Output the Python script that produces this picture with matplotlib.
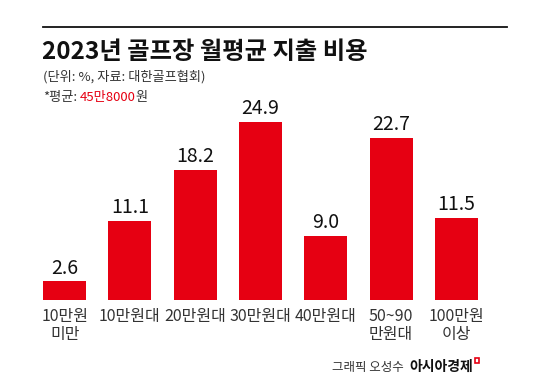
import matplotlib
matplotlib.use("Agg")
import matplotlib.pyplot as plt
from matplotlib.lines import Line2D
from matplotlib.patches import Rectangle

plt.rcParams['font.family'] = ['Noto Sans CJK KR', 'DejaVu Sans']

categories = ["10만원\n미만", "10만원대", "20만원대", "30만원대", "40만원대", "50~90\n만원대", "100만원\n이상"]
values = [2.6, 11.1, 18.2, 24.9, 9.0, 22.7, 11.5]

RED = "#E60012"
W, H = 550, 389

fig = plt.figure(figsize=(W / 100, H / 100), dpi=100)
fig.patch.set_facecolor("white")


def px(x, y):
    return x / W, 1 - y / H


# axes: x 32..489 px, y 100..300 px
ax = fig.add_axes([32 / W, 1 - 300 / H, 457 / W, 200 / H])
x = range(len(values))
ax.bar(x, values, width=0.66, color=RED)
for i, v in enumerate(values):
    ax.text(i, v + 0.35, f"{v:.1f}", ha="center", va="bottom", fontsize=14, color="#111")
ax.set_xlim(-0.5, len(values) - 0.5)
ax.set_ylim(0, 200 / 7.15)
ax.set_xticks(list(x))
ax.set_xticklabels(categories, fontsize=11.5, color="#333", linespacing=1.05)
ax.tick_params(axis="x", length=0, pad=6)
ax.set_yticks([])
for s in ax.spines.values():
    s.set_visible(False)
ax.patch.set_alpha(0)

# top rule
fig.add_artist(Line2D([43 / W, 507 / W], [1 - 26.5 / H] * 2, color="#111", lw=1.3))

# title and notes
fig.text(*px(42, 52), "2023년 골프장 월평균 지출 비용", fontsize=17.5, fontweight="bold",
         color="#111", va="center", ha="left")
fig.text(*px(43, 77), "(단위: %, 자료: 대한골프협회)", fontsize=9.5, color="#333",
         va="center", ha="left")
t = fig.text(*px(43, 98), "*평균:", fontsize=9.5, color="#333", va="center", ha="left")
fig.canvas.draw()
bb = t.get_window_extent()
t2 = fig.text((bb.x1 + 3) / W, 1 - 98 / H, "45만8000", fontsize=9.5, color=RED, va="center", ha="left")
fig.canvas.draw()
bb2 = t2.get_window_extent()
fig.text((bb2.x1 - 1) / W, 1 - 98 / H, "원", fontsize=9.5, color="#333", va="center", ha="left")

# credit
c2 = fig.text(*px(473, 367), "아시아경제", fontsize=10, fontweight="bold", color="#111",
              va="center", ha="right")
fig.canvas.draw()
cb = c2.get_window_extent()
fig.text((cb.x0 - 5) / W, 1 - 367 / H, "그래픽 오성수", fontsize=9, color="#333",
         va="center", ha="right")
fig.add_artist(Rectangle((475 / W, 1 - 363 / H), 4 / W, 5 / H, fill=False,
                         edgecolor=RED, lw=1.2, transform=fig.transFigure))

fig.savefig("out.png", dpi=100, facecolor="white")
